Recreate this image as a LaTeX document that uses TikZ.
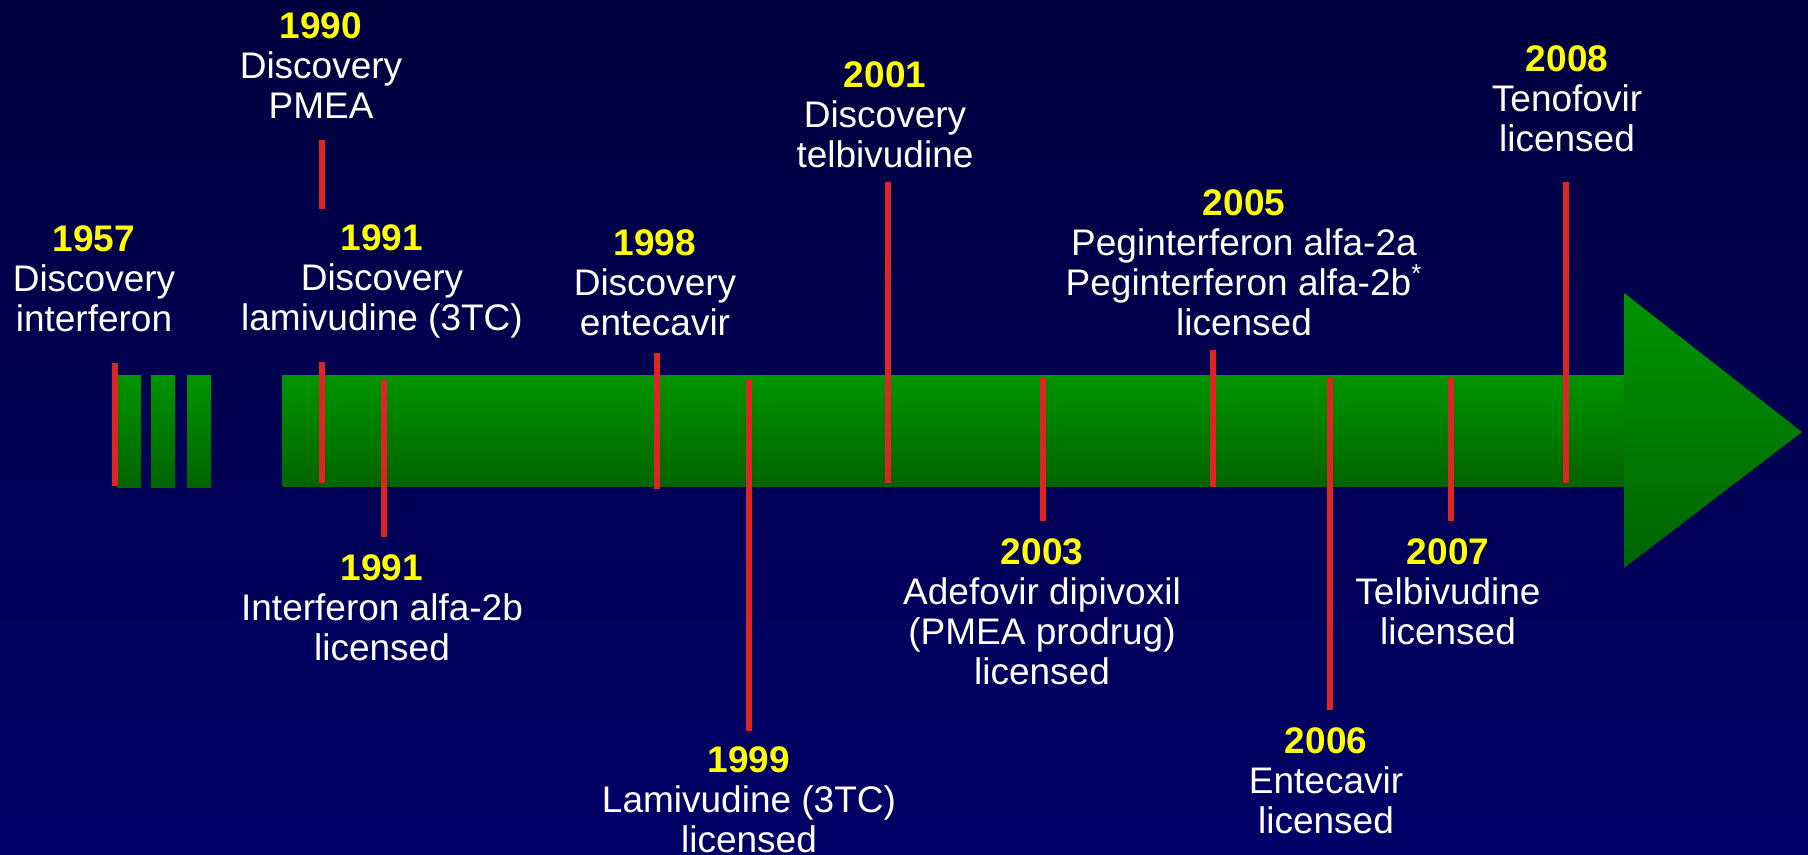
\documentclass[tikz,border=0pt]{standalone}
\usepackage{fontspec}
\setmainfont{Liberation Sans}

\definecolor{bgtop}{RGB}{0,0,62}
\definecolor{bgbot}{RGB}{0,0,104}
\definecolor{bartop}{RGB}{0,148,0}
\definecolor{barbot}{RGB}{0,100,0}
\definecolor{tickred}{RGB}{220,38,38}
\definecolor{yeartxt}{RGB}{255,255,0}

\tikzset{
  bar/.style={top color=bartop, bottom color=barbot, draw=none},
  tick/.style={tickred, line width=3pt},
  event/.style={align=center, anchor=north, inner sep=0pt, text=white,
                font=\fontsize{18.5}{20}\selectfont},
}
\newcommand\yr[1]{\textcolor{yeartxt}{\bfseries #1}}

\begin{document}
\begin{tikzpicture}[x=0.5pt, y=-0.5pt]
    \useasboundingbox (0,0) rectangle (1808,855);
    \shade[top color=bgtop, bottom color=bgbot] (0,0) rectangle (1808,855);

    % time bar
    \foreach \xa/\xb in {117/141, 151/175, 187/211}
        \shade[bar] (\xa,376) rectangle (\xb,487);
    \shade[bar] (282,376) rectangle (1625,486);
    \shade[bar] (1624,293) -- (1802,432) -- (1624,568) -- cycle;

    % ticks
    \foreach \x/\ya/\yb in {115/363/486, 322/140/209, 322/362/483, 384/379/537,
            657/353/489, 749/380/731, 888/182/483, 1043/378/521,
            1213/350/487, 1330/378/710, 1451/378/521, 1566/182/483}
        \draw[tick] (\x,\ya) -- (\x,\yb);

    % above the bar
    \node[event] (ifndisc)  at (94,225)   {\yr{1957}\\Discovery\\interferon};
    \node[event] (pmeadisc) at (321,12)   {\yr{1990}\\Discovery\\PMEA};
    \node[event] (lamdisc)  at (382,224)  {\yr{1991}\\Discovery\\lamivudine (3TC)};
    \node[event] (entdisc)  at (655,229)  {\yr{1998}\\Discovery\\entecavir};
    \node[event] (telbdisc) at (885,61)   {\yr{2001}\\Discovery\\telbivudine};
    \node[event] (peglic)   at (1244,189) {\yr{2005}\\Peginterferon alfa-2a\\Peginterferon alfa-2b\textsuperscript{*}\\licensed};
    \node[event] (tenolic)  at (1567,45)  {\yr{2008}\\Tenofovir\\licensed};

    % below the bar
    \node[event] (ifnlic)   at (382,554)  {\yr{1991}\\Interferon alfa-2b\\licensed};
    \node[event] (lamlic)   at (749,746)  {\yr{1999}\\Lamivudine (3TC)\\licensed};
    \node[event] (adflic)   at (1042,538) {\yr{2003}\\Adefovir dipivoxil\\(PMEA prodrug)\\licensed};
    \node[event] (entlic)   at (1326,727) {\yr{2006}\\Entecavir\\licensed};
    \node[event] (telblic)  at (1448,538) {\yr{2007}\\Telbivudine\\licensed};
\end{tikzpicture}
\end{document}
